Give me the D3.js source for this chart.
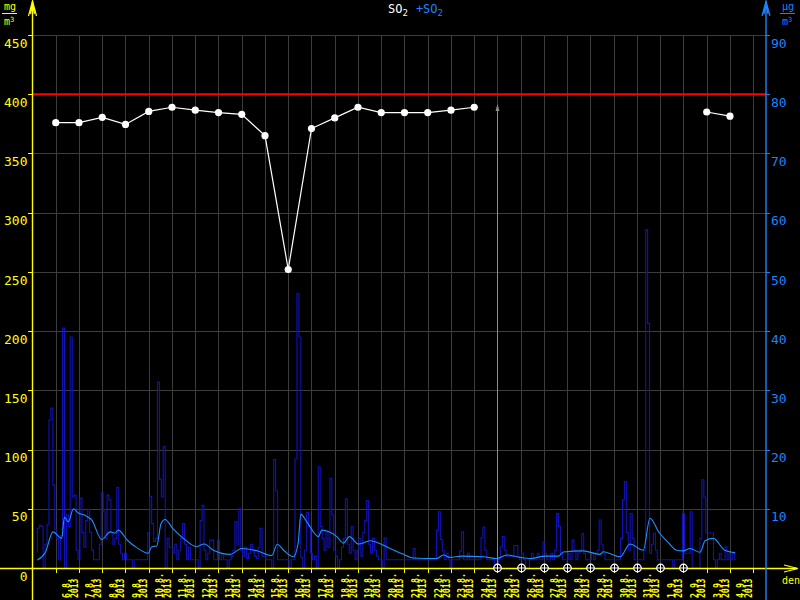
<!DOCTYPE html>
<html>
<head>
<meta charset="utf-8">
<script src="https://cdn.jsdelivr.net/npm/d3@7"></script>
<style>
  html, body { margin: 0; padding: 0; background: #000; }
  svg { display: block; }
  text { font-family: "DejaVu Sans Mono", "Liberation Mono", monospace; }
</style>
</head>
<body>
<svg id="chart" width="800" height="600"></svg>
<script>
// ---------------- DATA ----------------
const year = "2013";
// x ticks: day index counted from 5.8. 00:00 (tick at start of each day)
const dateLabels = ["6.8.","7.8.","8.8.","9.8.","10.8.","11.8.","12.8.","13.8.","14.8.","15.8.",
  "16.8.","17.8.","18.8.","19.8.","20.8.","21.8.","22.8.","23.8.","24.8.","25.8.",
  "26.8.","27.8.","28.8.","29.8.","30.8.","31.8.","1.9.","2.9.","3.9.","4.9."];
const leftTicks  = [0, 50, 100, 150, 200, 250, 300, 350, 400, 450];
const rightTicks = [10, 20, 30, 40, 50, 60, 70, 80, 90];
const limitValue = 400;

// daily values (left axis), one per day 6.8. ... 4.9.; null = no data
const dailyValues = [376, 376, 380.5, 374.5, 385.5, 389, 386.5, 384.5, 383, 365,
  252, 371, 380, 389, 384.5, 384.5, 384.5, 386.5, 389,
  null, null, null, null, null, null, null, null, null,
  385, 381.5];

// days with missing daily value (marked on axis)
const missingDays = ["25.8.","26.8.","27.8.","28.8.","29.8.","30.8.","31.8.","1.9.","2.9."];
const markerDay = "25.8.";

// raw +SO2 values (right axis), every 2 hours from 5.8. 04:00
const rawStartHour = 4;
const rawStepHours = 2;
const rawValues = [
  2.7, 6.7, 7.2, 7.0, 0, 4, 7.3, 25, 27, 14,                 // 5.8.
  6.5, 5, 1.4, 5.5, 40.5, 0, 9, 7, 39, 12, 12.3, 3,          // 6.8.
  1.4, 11.8, 6, 3.5, 8, 9.9, 6, 3, 1.4, 1.4, 1.4, 4,         // 7.8.
  12.7, 9.5, 5, 12.3, 11.5, 6, 4, 5, 13.6, 4, 2.5, 1.4,      // 8.8.
  2.5, 1.4, 1.4, 1.4, 0, 1.4, 1.4, 1.4, 1.4, 1.4, 1.4, 1.4,  // 9.8.
  6, 12.1, 7.5, 4.5, 5, 31.4, 15, 12, 20.5, 0, 5, 3.5,       // 10.8.
  3.5, 2.5, 4, 1.4, 3, 5, 7.5, 4, 1.4, 3.5, 1.4, 1.4,        // 11.8.
  1.4, 1.4, 0, 8, 10.6, 3, 1.4, 2.5, 4.7, 4.7, 1.4, 1.4,     // 12.8.
  4.7, 1.4, 2.5, 1.4, 1.4, 0, 1.4, 2, 3, 7.8, 4, 10,         // 13.8.
  3, 2, 3.5, 1.6, 2.5, 4, 3, 2, 1.6, 3.5, 6.7, 2,            // 14.8.
  2, 1.4, 1.4, 1.4, 0, 18.3, 13, 1.4, 1.4, 1.4, 1.4, 1.4,    // 15.8.
  1.4, 0, 1.4, 1.4, 18.4, 46.3, 39, 1.8, 0, 3, 9.4, 7,       // 16.8.
  2.5, 1.4, 2, 0, 17.1, 7, 5, 3, 6, 3.5, 15.1, 9,            // 17.8.
  3, 2, 0, 1.4, 3.5, 5, 11.7, 4, 2.5, 7, 3, 1.4,             // 18.8.
  3, 5, 2, 6, 8, 11.4, 4, 2.5, 5, 3, 2, 1.4,                 // 19.8.
  1.4, 0, 5.1, 1.4, 1.4, 1.4, 1.4, 1.4, 1.4, 1.4, 1.4, 1.4,  // 20.8.
  1.4, 1.4, 1.4, 1.4, 1.4, 3.3, 1.4, 1.4, 1.4, 1.4, 1.4, 1.4,// 21.8.
  1.4, 1.4, 1.4, 1.4, 1.4, 6.4, 9.5, 4.8, 2.9, 1.4, 2.5, 1.4,// 22.8.
  0, 1.4, 1.4, 1.4, 1.4, 2.9, 6.1, 1.4, 1.4, 2.5, 1.4, 1.4,  // 23.8.
  1.4, 1.4, 1.4, 1.4, 5.1, 6.9, 3, 1.4, 1.4, 1.4, 1.4, 0,    // 24.8.
  0, 1.4, 3.6, 5.3, 3, 1.9, 1.9, 1.9, 1.9, 3.8, 3.8, 1.9,    // 25.8.
  1.4, 2.5, 1.4, 0, 0, 1.4, 2.5, 1.4, 1.4, 2.5, 1.4, 1.4,    // 26.8.
  4.4, 2.5, 1.4, 1.4, 2.5, 1.4, 3, 9.2, 7, 2.5, 1.4, 1.4,    // 27.8.
  1.4, 2.5, 1.4, 4.7, 3, 1.4, 2.5, 3, 5.8, 2.5, 1.4, 1.4,    // 28.8.
  1.4, 2.5, 1.4, 2.5, 3, 8.1, 4, 2.5, 1.4, 1.4, 1.4, 1.4,    // 29.8.
  1.4, 1.4, 1.4, 1.4, 5, 11.5, 14.6, 6, 3, 9.2, 5, 1.4,      // 30.8.
  1.4, 1.4, 1.4, 1.4, 3, 57.1, 41.3, 2.5, 4, 5.9, 3, 1.4,    // 31.8.
  1.4, 1.4, 1.4, 1.4, 1.4, 1.4, 1.4, 0, 1.4, 1.4, 1.4, 1.4,  // 1.9.
  9.2, 2.5, 2.5, 2.5, 9.5, 0, 0, 0, 0, 5, 14.9, 12,          // 2.9.
  5.9, 5.9, 5.9, 5.9, 1.4, 0, 1.4, 2.5, 1.4, 1.4, 3.6, 1.4,  // 3.9.
  2.5, 1.4, 2.5, 1.4                                         // 4.9.
];

// running average of +SO2 (right axis): time in days from 5.8. 00:00
const avgTimes = [0.21, 0.55, 0.88, 1.26, 1.37, 1.54, 1.76, 1.97, 2.25, 2.55, 2.98, 3.34, 3.55, 3.69,
  4.1, 4.5, 4.98, 5.13, 5.34, 5.53, 5.70, 6.05, 6.49, 7.06, 7.38, 7.78, 8.50, 9.00, 9.65, 10.29, 10.53,
  10.8, 11.22, 11.43, 11.54, 11.80, 12.30, 12.44, 13.09, 13.37, 13.63, 14.02, 14.52, 15.38,
  15.9, 16.38, 17.39, 17.67, 17.96, 18.46, 19.39, 19.97, 20.40, 20.97, 21.40, 22.04, 22.62,
  22.83, 23.69, 24.41, 24.55, 25.27, 25.70, 26.27, 26.56, 26.95, 27.35, 27.71, 27.99, 28.28, 28.71,
  28.93, 29.28, 29.78, 30.22];
const avgValues = [1.35, 2.6, 6.1, 5.0, 8.6, 7.8, 10.0, 9.3, 8.9, 8.1, 4.8, 6.1, 5.9, 6.4,
  4.6, 3.4, 2.5, 3.6, 3.7, 7.5, 8.2, 6.6, 5.0, 3.6, 4.05, 3.0, 2.3, 3.3, 2.9, 2.1, 4.0,
  3.0, 1.9, 4.3, 9.1, 7.8, 5.3, 6.4, 5.3, 4.2, 5.3, 4.05, 4.6, 3.3,
  2.4, 1.7, 1.6, 2.2, 1.8, 2.0, 1.9, 1.6, 2.2, 1.8, 1.6, 2.0, 2.0,
  2.7, 2.9, 2.3, 2.75, 1.9, 4.05, 3.0, 8.4, 6.0, 4.3, 3.0, 2.9, 3.3, 2.65,
  4.6, 5.0, 3.0, 2.6];

// ---------------- CHART ----------------
const svg = d3.select("#chart");
const W = 800, H = 600;
svg.append("rect").attr("width", W).attr("height", H).attr("fill", "#000");

const x0 = 32.5, x1 = 766, yTop = 35, yBase = 568;
const x = d3.scaleLinear().domain([0, 31.55]).range([x0, x1]);
const yL = d3.scaleLinear().domain([0, 450]).range([yBase, yTop]);
const yR = d3.scaleLinear().domain([0, 90]).range([yBase, yTop]);

const YELLOW = "#ffff00", BLUE_AX = "#1a84ff", BLUE_L = "#1e90ff", BLUE_D = "#1212b8", GRID = "#3c3c3c";
const dayTicks = d3.range(1, 32);

// grid
const grid = svg.append("g").attr("shape-rendering", "crispEdges");
grid.selectAll("line.h").data(leftTicks.filter(v => v > 0)).join("line")
  .attr("x1", x0).attr("x2", x1).attr("y1", d => Math.round(yL(d)) + 0.5).attr("y2", d => Math.round(yL(d)) + 0.5)
  .attr("stroke", GRID);
grid.selectAll("line.v").data(dayTicks).join("line")
  .attr("x1", d => Math.round(x(d)) + 0.5).attr("x2", d => Math.round(x(d)) + 0.5)
  .attr("y1", yTop).attr("y2", yBase)
  .attr("stroke", GRID);

// limit line
svg.append("line").attr("x1", x0).attr("x2", x1)
  .attr("y1", yL(limitValue)).attr("y2", yL(limitValue))
  .attr("stroke", "#ff0000").attr("stroke-width", 2);

// raw series
const rawData = rawValues.map((v, i) => ({ t: (rawStartHour + rawStepHours * i) / 24, v }));
svg.append("path").datum(rawData)
  .attr("d", d3.line().x(d => x(d.t)).y(d => yR(d.v)).curve(d3.curveStep))
  .attr("fill", "none").attr("stroke", BLUE_D).attr("stroke-width", 1.1);

// running average
const avgData = avgTimes.map((t, i) => ({ t, v: avgValues[i] }));
svg.append("path").datum(avgData)
  .attr("d", d3.line().x(d => x(d.t)).y(d => yR(d.v)).curve(d3.curveMonotoneX))
  .attr("fill", "none").attr("stroke", BLUE_L).attr("stroke-width", 1.1);

// marker line at 25.8.
const mIdx = dateLabels.indexOf(markerDay) + 1;
const mx = Math.round(x(mIdx)) + 0.5;
svg.append("line").attr("x1", mx).attr("x2", mx).attr("y1", yBase).attr("y2", 106)
  .attr("stroke", "#8c8c8c").attr("stroke-width", 1);
svg.append("path").attr("d", `M${mx - 2},${111} L${mx},${104} L${mx + 2},${111} Z`)
  .attr("fill", "#8c8c8c");

// daily series
const dailyData = dailyValues.map((v, i) => ({ t: i + 1, v }));
svg.append("path").datum(dailyData)
  .attr("d", d3.line().defined(d => d.v !== null).x(d => x(d.t)).y(d => yL(d.v)))
  .attr("fill", "none").attr("stroke", "#fff").attr("stroke-width", 1.2);
svg.selectAll("circle.dot").data(dailyData.filter(d => d.v !== null)).join("circle")
  .attr("cx", d => x(d.t)).attr("cy", d => yL(d.v)).attr("r", 3.6).attr("fill", "#fff");

// x axis (bottom)
const xAxis = d3.axisBottom(x).tickValues(dayTicks).tickSize(5).tickFormat("");
const gx = svg.append("g").attr("transform", `translate(0,${yBase})`).call(xAxis);
gx.select(".domain").remove();
gx.selectAll(".tick line").attr("stroke", YELLOW).attr("shape-rendering", "crispEdges");
svg.append("line").attr("x1", 0).attr("x2", 797).attr("y1", yBase + 0.5).attr("y2", yBase + 0.5)
  .attr("stroke", YELLOW).attr("stroke-width", 1.4);
svg.append("path").attr("d", `M784,${yBase - 3} L798,${yBase + 0.5} L784,${yBase + 4} M788,${yBase - 2} L798,${yBase + 0.5} L788,${yBase + 3}`)
  .attr("fill", "none").attr("stroke", YELLOW).attr("stroke-width", 1.2);
svg.append("text").attr("x", 791).attr("y", 584).attr("text-anchor", "middle")
  .attr("font-size", 10).attr("fill", YELLOW).text("den");

// date labels (rotated, two lines)
const dl = svg.append("g").selectAll("g").data(dateLabels).join("g")
  .attr("transform", (d, i) => `translate(${x(i + 1) + 14.5},598) rotate(-90)`);
dl.append("text").attr("x", 0).attr("y", 0).attr("font-size", 10).attr("font-weight", "bold").attr("fill", YELLOW)
  .attr("textLength", d => d.length * 5.0).attr("lengthAdjust", "spacingAndGlyphs").text(d => d);
dl.append("text").attr("x", 0).attr("y", 7.5).attr("font-size", 10).attr("font-weight", "bold").attr("fill", YELLOW)
  .attr("textLength", 19.5).attr("lengthAdjust", "spacingAndGlyphs").text(year);

// missing-value markers
const missG = svg.append("g").selectAll("g").data(missingDays).join("g")
  .attr("transform", d => `translate(${Math.round(x(dateLabels.indexOf(d) + 1)) + 0.5},${yBase})`);
missG.append("circle").attr("r", 3.8).attr("fill", "#000").attr("stroke", "#fff").attr("stroke-width", 1.2);
missG.append("path").attr("d", "M0,-4 L0,4 M-4,0 L4,0").attr("stroke", "#fff").attr("stroke-width", 1);

// left axis
const lAxis = d3.axisLeft(yL).tickValues(leftTicks).tickSize(5).tickPadding(0);
const gl = svg.append("g").attr("transform", `translate(${x0},0)`).call(lAxis);
gl.select(".domain").remove();
gl.selectAll(".tick line").attr("stroke", YELLOW).attr("shape-rendering", "crispEdges");
gl.selectAll(".tick text").attr("fill", YELLOW).attr("font-size", 13).attr("y", 8).attr("dy", "0.32em")
  .attr("font-family", "DejaVu Sans Mono");
svg.append("line").attr("x1", x0).attr("x2", x0).attr("y1", 1).attr("y2", 600)
  .attr("stroke", YELLOW).attr("stroke-width", 1.4);
svg.append("path").attr("d", `M${x0 - 4},16 L${x0},1 L${x0 + 4},16 M${x0 - 2},14 L${x0},5 L${x0 + 2},14`)
  .attr("fill", "none").attr("stroke", YELLOW).attr("stroke-width", 1.2);

// right axis
const rAxis = d3.axisRight(yR).tickValues(rightTicks).tickSize(4).tickPadding(1);
const gr = svg.append("g").attr("transform", `translate(${x1},0)`).call(rAxis);
gr.select(".domain").remove();
gr.selectAll(".tick line").attr("stroke", BLUE_AX).attr("shape-rendering", "crispEdges");
gr.selectAll(".tick text").attr("fill", BLUE_AX).attr("font-size", 13).attr("y", 8).attr("dy", "0.32em")
  .attr("font-family", "DejaVu Sans Mono");
svg.append("line").attr("x1", x1).attr("x2", x1).attr("y1", 1).attr("y2", 600)
  .attr("stroke", BLUE_AX).attr("stroke-width", 1.4);
svg.append("path").attr("d", `M${x1 - 4},16 L${x1},1 L${x1 + 4},16 M${x1 - 2},14 L${x1},5 L${x1 + 2},14`)
  .attr("fill", "none").attr("stroke", BLUE_AX).attr("stroke-width", 1.2);

// units
function unit(cx, color, top) {
  const g = svg.append("g").attr("fill", color);
  g.append("text").attr("x", cx).attr("y", 9.5).attr("text-anchor", "middle").attr("font-size", 10).text(top);
  svg.append("line").attr("x1", cx - 8).attr("x2", cx + 7).attr("y1", 13.5).attr("y2", 13.5)
    .attr("stroke", color).attr("stroke-width", 1);
  const t = g.append("text").attr("x", cx - 1).attr("y", 25).attr("text-anchor", "middle").attr("font-size", 10);
  t.append("tspan").text("m");
  t.append("tspan").attr("dy", -3).attr("font-size", 7).text("3");
}
unit(10, YELLOW, "mg");
unit(788, BLUE_AX, "µg");

// title
const title = svg.append("text").attr("x", 388).attr("y", 13).attr("font-size", 12);
title.append("tspan").attr("fill", "#fff").text("SO");
title.append("tspan").attr("fill", "#fff").attr("font-size", 9).attr("dy", 3).text("2");
title.append("tspan").attr("fill", BLUE_AX).attr("dy", -3).attr("dx", 8).text("+SO");
title.append("tspan").attr("fill", BLUE_AX).attr("font-size", 9).attr("dy", 3).text("2");
</script>
</body>
</html>
